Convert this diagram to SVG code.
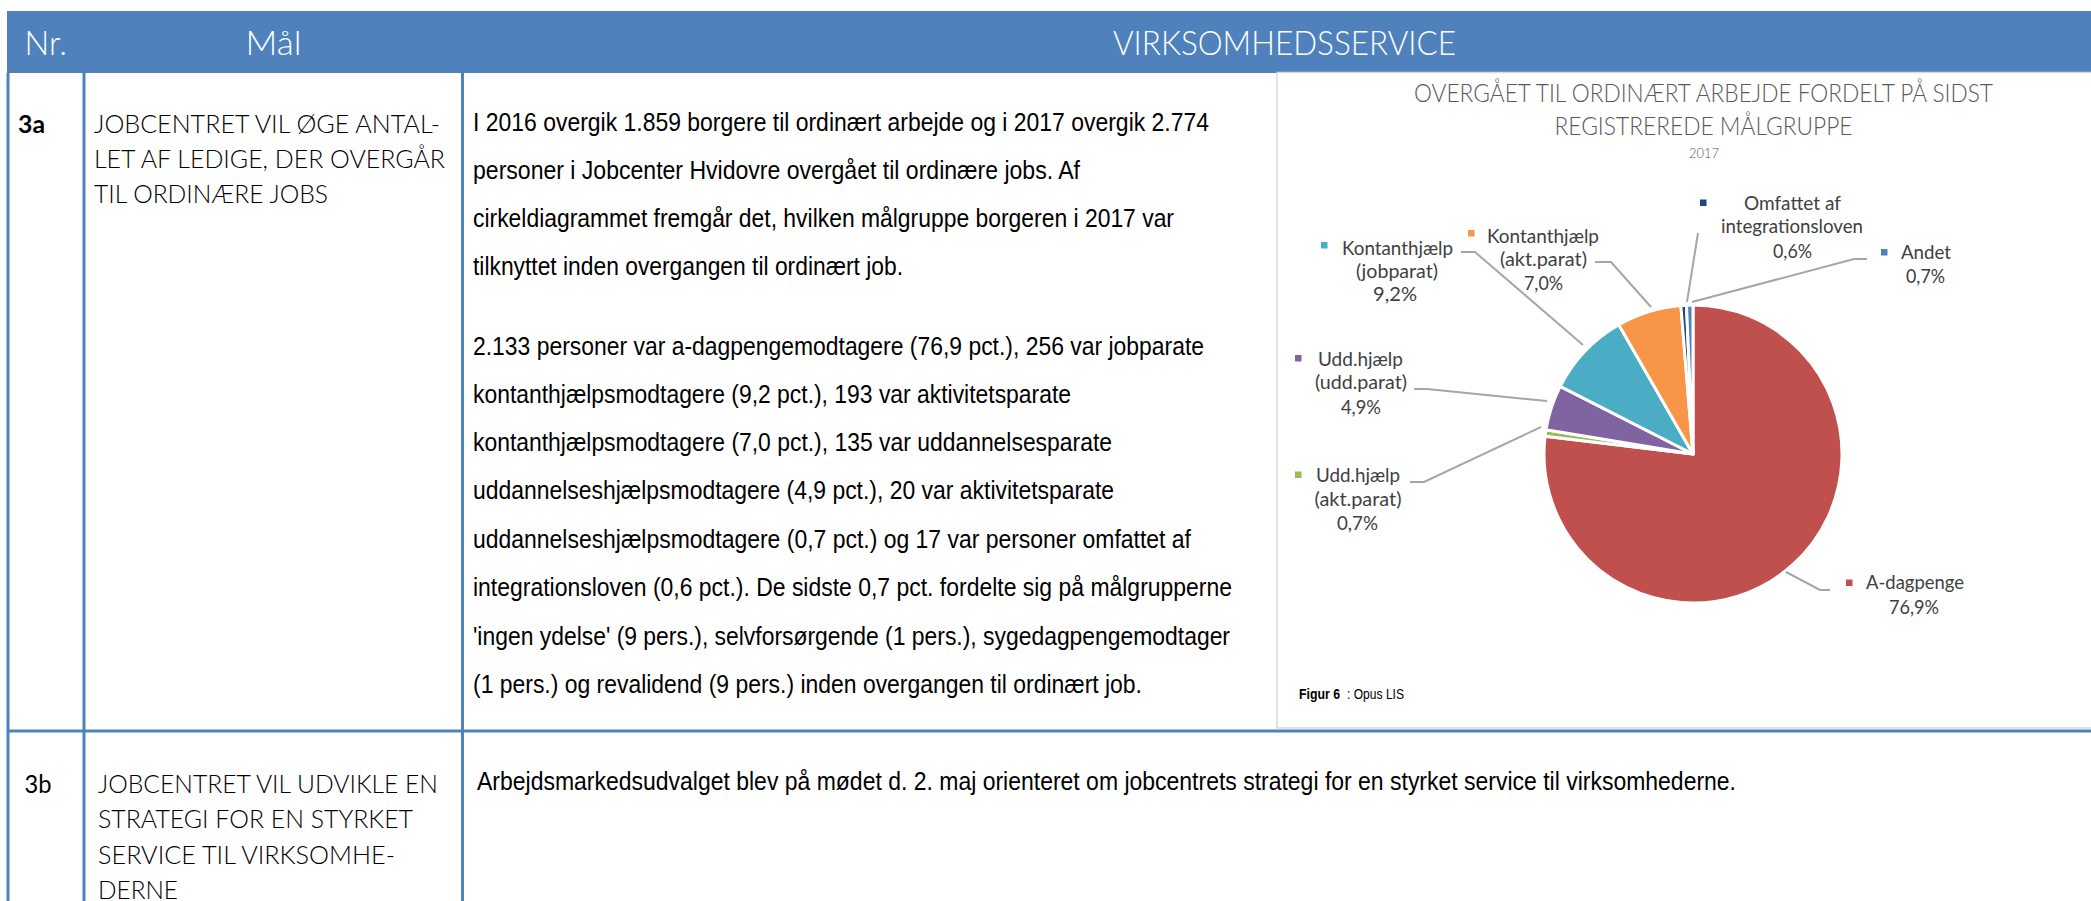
<svg xmlns="http://www.w3.org/2000/svg" width="2091" height="901" viewBox="0 0 2091 901">
<style>
.hdr{font-family:Lato,"Open Sans",sans-serif;font-weight:300;font-size:34px;fill:#ffffff}
.goal{font-family:Lato,"Open Sans",sans-serif;font-weight:300;font-size:26px;fill:#000000}
.nr{font-family:Lato,"Open Sans",sans-serif;font-size:25px;fill:#000000}
.body{font-family:"Liberation Sans Narrow","Liberation Sans",Arial,sans-serif;font-size:25px;fill:#000000}
.ttl{font-family:Lato,"Open Sans",sans-serif;font-weight:300;font-size:26px;fill:#595959;text-anchor:middle}
.sub{font-family:Lato,"Open Sans",sans-serif;font-weight:300;font-size:14px;fill:#595959;text-anchor:middle}
.lbl{font-family:Lato,"Open Sans",sans-serif;font-size:20px;fill:#404040;text-anchor:middle}
.cap{font-family:"Liberation Sans Narrow","Liberation Sans",Arial,sans-serif;font-size:14px;fill:#000000}
.capb{font-family:"Liberation Sans Narrow","Liberation Sans",Arial,sans-serif;font-size:14px;font-weight:700;fill:#000000}
.tbl{stroke:#4f81bd;stroke-width:3;fill:none}
.lead{stroke:#a6a6a6;stroke-width:2;fill:none}
.slice{stroke:#ffffff;stroke-width:3;stroke-linejoin:round}
</style>
<rect x="0" y="0" width="2091" height="901" fill="#ffffff"/>

<g id="header">
  <rect x="7" y="11" width="2084" height="62" fill="#4f81bd"/>
  <text class="hdr" x="24.5" y="55" textLength="42.5" lengthAdjust="spacingAndGlyphs">Nr.</text>
  <text class="hdr" x="245.5" y="55" textLength="56" lengthAdjust="spacingAndGlyphs">Mål</text>
  <text class="hdr" x="1113" y="55" textLength="343" lengthAdjust="spacingAndGlyphs">VIRKSOMHEDSSERVICE</text>
</g>

<g id="table-lines">
  <line class="tbl" x1="8" y1="73" x2="8" y2="901"/>
  <line class="tbl" x1="84" y1="73" x2="84" y2="901"/>
  <line class="tbl" x1="462.5" y1="73" x2="462.5" y2="901"/>
  <line class="tbl" x1="7" y1="731" x2="2091" y2="731"/>
</g>

<g id="row-3a">
  <text class="nr" x="18" y="133" font-weight="700" textLength="27" lengthAdjust="spacingAndGlyphs">3a</text>
  <text class="goal" x="94" y="133" textLength="346" lengthAdjust="spacingAndGlyphs">JOBCENTRET VIL ØGE ANTAL-</text>
  <text class="goal" x="94" y="168" textLength="351" lengthAdjust="spacingAndGlyphs">LET AF LEDIGE, DER OVERGÅR</text>
  <text class="goal" x="94" y="203" textLength="234" lengthAdjust="spacingAndGlyphs">TIL ORDINÆRE JOBS</text>
  <text class="body" x="473" y="131" textLength="736" lengthAdjust="spacingAndGlyphs">I 2016 overgik 1.859 borgere til ordinært arbejde og i 2017 overgik 2.774</text>
  <text class="body" x="473" y="179" textLength="607" lengthAdjust="spacingAndGlyphs">personer i Jobcenter Hvidovre overgået til ordinære jobs. Af</text>
  <text class="body" x="473" y="227" textLength="701" lengthAdjust="spacingAndGlyphs">cirkeldiagrammet fremgår det, hvilken målgruppe borgeren i 2017 var</text>
  <text class="body" x="473" y="275" textLength="430" lengthAdjust="spacingAndGlyphs">tilknyttet inden overgangen til ordinært job.</text>
  <text class="body" x="473" y="355" textLength="731" lengthAdjust="spacingAndGlyphs">2.133 personer var a-dagpengemodtagere (76,9 pct.), 256 var jobparate</text>
  <text class="body" x="473" y="403" textLength="598" lengthAdjust="spacingAndGlyphs">kontanthjælpsmodtagere (9,2 pct.), 193 var aktivitetsparate</text>
  <text class="body" x="473" y="451" textLength="639" lengthAdjust="spacingAndGlyphs">kontanthjælpsmodtagere (7,0 pct.), 135 var uddannelsesparate</text>
  <text class="body" x="473" y="499" textLength="641" lengthAdjust="spacingAndGlyphs">uddannelseshjælpsmodtagere (4,9 pct.), 20 var aktivitetsparate</text>
  <text class="body" x="473" y="548" textLength="718" lengthAdjust="spacingAndGlyphs">uddannelseshjælpsmodtagere (0,7 pct.) og 17 var personer omfattet af</text>
  <text class="body" x="473" y="596" textLength="759" lengthAdjust="spacingAndGlyphs">integrationsloven (0,6 pct.). De sidste 0,7 pct. fordelte sig på målgrupperne</text>
  <text class="body" x="473" y="645" textLength="757" lengthAdjust="spacingAndGlyphs">'ingen ydelse' (9 pers.), selvforsørgende (1 pers.), sygedagpengemodtager</text>
  <text class="body" x="473" y="693" textLength="669" lengthAdjust="spacingAndGlyphs">(1 pers.) og revalidend (9 pers.) inden overgangen til ordinært job.</text>
</g>

<g id="chart">
  <rect x="1277" y="72.5" width="830" height="655.5" fill="#ffffff" stroke="#d9d9d9" stroke-width="1.5"/>
  <text class="ttl" x="1703.5" y="102" textLength="579" lengthAdjust="spacingAndGlyphs">OVERGÅET TIL ORDINÆRT ARBEJDE FORDELT PÅ SIDST</text>
  <text class="ttl" x="1703.5" y="135" textLength="298" lengthAdjust="spacingAndGlyphs">REGISTREREDE MÅLGRUPPE</text>
  <text class="sub" x="1704" y="158" textLength="30" lengthAdjust="spacingAndGlyphs">2017</text>

  <g id="pie">
    <path class="slice" fill="#c0504d" d="M1693,454 L1693,305 A149,149 0 1 1 1545.06,436.25 Z"/>
    <path class="slice" fill="#9bbb59" d="M1693,454 L1545.06,436.25 A149,149 0 0 1 1545.98,429.77 Z"/>
    <path class="slice" fill="#8064a2" d="M1693,454 L1545.98,429.77 A149,149 0 0 1 1560.24,386.36 Z"/>
    <path class="slice" fill="#4bacc6" d="M1693,454 L1560.24,386.36 A149,149 0 0 1 1618.77,324.81 Z"/>
    <path class="slice" fill="#f79646" d="M1693,454 L1618.77,324.81 A149,149 0 0 1 1680.84,305.5 Z"/>
    <path class="slice" fill="#1f497d" d="M1693,454 L1680.84,305.5 A149,149 0 0 1 1686.45,305.14 Z"/>
    <path class="slice" fill="#4f81bd" d="M1693,454 L1686.45,305.14 A149,149 0 0 1 1693,305 Z"/>
  </g>

  <g id="label-kontant-job">
    <rect x="1321" y="242" width="6.5" height="6.5" fill="#4bacc6"/>
    <text class="lbl" x="1397.5" y="255" textLength="111" lengthAdjust="spacingAndGlyphs">Kontanthjælp</text>
    <text class="lbl" x="1397" y="278" textLength="82" lengthAdjust="spacingAndGlyphs">(jobparat)</text>
    <text class="lbl" x="1395" y="301" textLength="44" lengthAdjust="spacingAndGlyphs">9,2%</text>
  </g>
  <g id="label-kontant-akt">
    <rect x="1468" y="230" width="6.5" height="6.5" fill="#f79646"/>
    <text class="lbl" x="1543" y="243" textLength="112" lengthAdjust="spacingAndGlyphs">Kontanthjælp</text>
    <text class="lbl" x="1543.5" y="266" textLength="87" lengthAdjust="spacingAndGlyphs">(akt.parat)</text>
    <text class="lbl" x="1543.5" y="290" textLength="39" lengthAdjust="spacingAndGlyphs">7,0%</text>
  </g>
  <g id="label-omfattet">
    <rect x="1700" y="199.5" width="6.5" height="6.5" fill="#1f497d"/>
    <text class="lbl" x="1792.5" y="210" textLength="97" lengthAdjust="spacingAndGlyphs">Omfattet af</text>
    <text class="lbl" x="1792" y="233" textLength="142" lengthAdjust="spacingAndGlyphs">integrationsloven</text>
    <text class="lbl" x="1792.5" y="258" textLength="39" lengthAdjust="spacingAndGlyphs">0,6%</text>
  </g>
  <g id="label-andet">
    <rect x="1881" y="249" width="6.5" height="6.5" fill="#4f81bd"/>
    <text class="lbl" x="1926" y="259" textLength="50" lengthAdjust="spacingAndGlyphs">Andet</text>
    <text class="lbl" x="1925.5" y="283" textLength="39" lengthAdjust="spacingAndGlyphs">0,7%</text>
  </g>
  <g id="label-udd-udd">
    <rect x="1295" y="355" width="6.5" height="6.5" fill="#8064a2"/>
    <text class="lbl" x="1360.5" y="366" textLength="85" lengthAdjust="spacingAndGlyphs">Udd.hjælp</text>
    <text class="lbl" x="1361" y="389" textLength="92" lengthAdjust="spacingAndGlyphs">(udd.parat)</text>
    <text class="lbl" x="1361" y="414" textLength="40" lengthAdjust="spacingAndGlyphs">4,9%</text>
  </g>
  <g id="label-udd-akt">
    <rect x="1295" y="471.5" width="6.5" height="6.5" fill="#9bbb59"/>
    <text class="lbl" x="1358" y="482" textLength="84" lengthAdjust="spacingAndGlyphs">Udd.hjælp</text>
    <text class="lbl" x="1358" y="506" textLength="87" lengthAdjust="spacingAndGlyphs">(akt.parat)</text>
    <text class="lbl" x="1357.5" y="530" textLength="41" lengthAdjust="spacingAndGlyphs">0,7%</text>
  </g>
  <g id="label-adagpenge">
    <rect x="1846" y="579.5" width="6.5" height="6.5" fill="#c0504d"/>
    <text class="lbl" x="1915" y="589" textLength="98" lengthAdjust="spacingAndGlyphs">A-dagpenge</text>
    <text class="lbl" x="1914" y="614" textLength="50" lengthAdjust="spacingAndGlyphs">76,9%</text>
  </g>

  <text class="capb" x="1299" y="699" textLength="41" lengthAdjust="spacingAndGlyphs">Figur 6</text>
  <text class="cap" x="1347" y="699" textLength="57" lengthAdjust="spacingAndGlyphs">: Opus LIS</text>
</g>

<g id="connectors">
  <polyline class="lead" points="1461,252 1475,252 1583,345"/>
  <polyline class="lead" points="1595,262 1611,262 1651,307"/>
  <polyline class="lead" points="1698,233 1687,302"/>
  <polyline class="lead" points="1867,259 1854,259 1692,302"/>
  <polyline class="lead" points="1414,389 1427,389 1547,401"/>
  <polyline class="lead" points="1410,482 1424,482 1541,427"/>
  <polyline class="lead" points="1830,590 1820,590 1786,572"/>
</g>

<g id="row-3b">
  <text class="nr" x="24.5" y="793" textLength="27" lengthAdjust="spacingAndGlyphs">3b</text>
  <text class="goal" x="98" y="793" textLength="340" lengthAdjust="spacingAndGlyphs">JOBCENTRET VIL UDVIKLE EN</text>
  <text class="goal" x="98" y="828" textLength="315" lengthAdjust="spacingAndGlyphs">STRATEGI FOR EN STYRKET</text>
  <text class="goal" x="98" y="864" textLength="297" lengthAdjust="spacingAndGlyphs">SERVICE TIL VIRKSOMHE-</text>
  <text class="goal" x="98" y="899" textLength="80" lengthAdjust="spacingAndGlyphs">DERNE</text>
  <text class="body" x="477" y="790" textLength="1259" lengthAdjust="spacingAndGlyphs">Arbejdsmarkedsudvalget blev på mødet d. 2. maj orienteret om jobcentrets strategi for en styrket service til virksomhederne.</text>
</g>
</svg>
